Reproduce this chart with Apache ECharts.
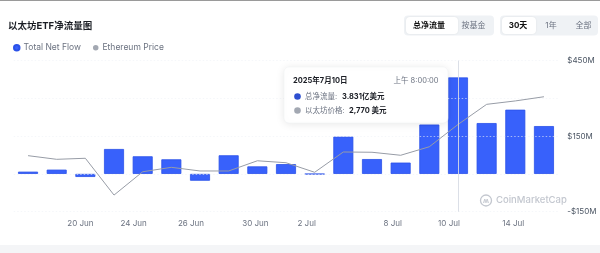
<!DOCTYPE html>
<html>
<head>
<meta charset="utf-8">
<script src="https://cdn.jsdelivr.net/npm/echarts@6/dist/echarts.min.js"></script>
<style>
html,body{margin:0;padding:0;background:#fff;}
#c{width:600px;height:253px;}
</style>
</head>
<body>
<div id="c"></div>
<script>
// ---- data ----
const dates = ['2025-06-17','2025-06-18','2025-06-20','2025-06-23','2025-06-24','2025-06-25','2025-06-26','2025-06-27','2025-06-30','2025-07-01','2025-07-02','2025-07-03','2025-07-07','2025-07-08','2025-07-09','2025-07-10','2025-07-11','2025-07-14','2025-07-15'];
const netFlow = [9, 17, -12, 99, 70, 58, -27, 74, 30, 39, -1, 148, 59, 45, 196, 383.1, 202, 255, 190]; // US$ millions
const ethPrice = [2532, 2504, 2512, 2231, 2409, 2443, 2415, 2415, 2493, 2478, 2405, 2560, 2558, 2535, 2600, 2770, 2924, 2950, 2982];
const labelDates = ['2025-06-20','2025-06-24','2025-06-26','2025-06-30','2025-07-02','2025-07-08','2025-07-10','2025-07-14'];
const yTickLabels = [-150, 150, 450];
const focusDate = '2025-07-10';
const seriesNames = ['Total Net Flow', 'Ethereum Price'];
const title = '以太坊ETF净流量图';
const buttons1 = ['总净流量', '按基金'];
const buttons2 = ['30天', '1年', '全部'];

// ---- styling (label nudges seen in the reference) ----
const labelNudge = {'2025-06-20': 5, '2025-06-24': 9, '2025-06-26': 9, '2025-06-30': 2, '2025-07-02': 8, '2025-07-08': 8, '2025-07-10': 9, '2025-07-14': 2};

const months = ['Jan','Feb','Mar','Apr','May','Jun','Jul','Aug','Sep','Oct','Nov','Dec'];
function shortDate(d){ const p=d.split('-'); return (+p[2])+' '+months[+p[1]-1]; }
function cnDate(d){ const p=d.split('-'); return p[0]+'年'+(+p[1])+'月'+(+p[2])+'日'; }

const FONT = 'Inter, "Noto Sans CJK SC", sans-serif';
const BLUE = '#3861fb';
const GREY = '#a3a8b2';
const fi = dates.indexOf(focusDate);
const flowText = (netFlow[fi]/100).toFixed(3) + '亿美元';
const priceText = ethPrice[fi].toLocaleString('en-US') + ' 美元';

const rich = {};
Object.keys(labelNudge).forEach((d, k) => {
  rich['n' + k] = {fontSize: 8, color: '#6b7280', fontFamily: FONT, padding: [0, labelNudge[d] * 2, 0, 0]};
});
const nudgeKeys = Object.keys(labelNudge);

const chart = echarts.init(document.getElementById('c'), null, {renderer:'canvas'});
chart.setOption({
  animation: false,
  textStyle: {fontFamily: FONT},
  title: {text: title, left: 8, top: 21, padding: 0, textStyle: {fontSize: 9.5, fontWeight: 'bold', color: '#1a1d24', fontFamily: FONT}},
  legend: {
    data: seriesNames, icon: 'circle',
    left: 13, top: 43.5, padding: 0, itemWidth: 5.5, itemHeight: 5.5, itemGap: 12,
    textStyle: {fontSize: 8.5, color: '#6b7280', fontFamily: FONT, padding: [0, 0, 0, -1]}
  },
  grid: {left: 13.7, right: 41.7, top: 60.6, bottom: 41.3, containLabel: false},
  xAxis: {
    type: 'category', data: dates,
    axisLine: {show: false}, axisTick: {show: false},
    axisLabel: {
      interval: (i, v) => labelDates.indexOf(v) >= 0,
      formatter: v => { const k = nudgeKeys.indexOf(v); return k >= 0 ? '{n' + k + '|' + shortDate(v) + '}' : shortDate(v); },
      rich: rich,
      fontSize: 8, color: '#6b7280', margin: 8, fontFamily: FONT
    }
  },
  yAxis: [{
    type: 'value', position: 'right', min: -150, max: 450, interval: 150, z: 3,
    axisLabel: {
      formatter: v => yTickLabels.indexOf(v) >= 0 ? (v < 0 ? '-$' + Math.abs(v) + 'M' : '$' + v + 'M') : '',
      fontSize: 8, color: '#4b5563', margin: 9, fontFamily: FONT
    },
    splitLine: {show: true, lineStyle: {color: 'rgba(238,241,246,0.6)', type: [1.5, 2], width: 1}}
  }, {
    type: 'value', min: 2104, max: 3258, show: false, splitLine: {show: false}
  }],
  series: [{
    name: seriesNames[0], type: 'bar', data: netFlow, barWidth: 20,
    itemStyle: {color: BLUE, borderColor: '#2b52e8', borderWidth: 0.8},
    markLine: {
      silent: true, symbol: 'none', label: {show: false},
      lineStyle: {color: 'rgba(215,220,228,0.9)', type: 'solid', width: 1},
      data: [{xAxis: focusDate}]
    }
  }, {
    name: seriesNames[1], type: 'line', yAxisIndex: 1, data: ethPrice,
    showSymbol: false, symbol: 'none', lineStyle: {color: '#979ca6', width: 1}, itemStyle: {color: GREY}, z: 4
  }],
  graphic: [
    {type: 'rect', shape: {x: 0, y: 0, width: 600, height: 1}, style: {fill: '#9a9a9a'}, silent: true},
    {type: 'rect', shape: {x: 0, y: 245, width: 600, height: 8}, style: {fill: '#f4f5f7'}, silent: true},
    // button group 1
    {type: 'rect', shape: {x: 404, y: 15.5, width: 90, height: 20, r: 4}, style: {fill: '#eff2f5'}, silent: true},
    {type: 'rect', shape: {x: 406, y: 17, width: 52, height: 17, r: 4}, style: {fill: '#fff', shadowBlur: 2, shadowColor: 'rgba(0,0,0,0.08)'}, silent: true},
    {type: 'text', x: 429, y: 25.5, style: {text: buttons1[0], font: 'bold 8px ' + FONT, fill: '#111', align: 'center', verticalAlign: 'middle'}},
    {type: 'text', x: 473.5, y: 25.5, style: {text: buttons1[1], font: '8px ' + FONT, fill: '#6b7280', align: 'center', verticalAlign: 'middle'}},
    // button group 2
    {type: 'rect', shape: {x: 500, y: 15.5, width: 98, height: 20, r: 4}, style: {fill: '#eff2f5'}, silent: true},
    {type: 'rect', shape: {x: 502, y: 17, width: 34, height: 17, r: 4}, style: {fill: '#fff', shadowBlur: 2, shadowColor: 'rgba(0,0,0,0.08)'}, silent: true},
    {type: 'text', x: 518, y: 25.5, style: {text: buttons2[0], font: 'bold 8px ' + FONT, fill: '#111', align: 'center', verticalAlign: 'middle'}},
    {type: 'text', x: 551, y: 25.5, style: {text: buttons2[1], font: '8px ' + FONT, fill: '#6b7280', align: 'center', verticalAlign: 'middle'}},
    {type: 'text', x: 583.5, y: 25.5, style: {text: buttons2[2], font: '8px ' + FONT, fill: '#6b7280', align: 'center', verticalAlign: 'middle'}},
    // watermark
    {type: 'circle', shape: {cx: 486, cy: 200.5, r: 5.5}, style: {fill: 'none', stroke: '#c3c7cf', lineWidth: 1.3}, silent: true},
    {type: 'text', x: 483, y: 201, style: {text: 'ʍ', font: 'bold 7px ' + FONT, fill: '#c3c7cf', align: 'left', verticalAlign: 'middle'}},
    {type: 'text', x: 496, y: 200.5, style: {text: 'CoinMarketCap', font: '500 9.5px ' + FONT, fill: '#c3c7cf', align: 'left', verticalAlign: 'middle'}},
    // static tooltip
    {type: 'rect', z: 100, shape: {x: 284, y: 67, width: 164, height: 56, r: 5}, style: {fill: '#fff', stroke: '#eef0f3', lineWidth: 0.5, shadowBlur: 8, shadowColor: 'rgba(0,0,0,0.10)', shadowOffsetY: 1}},
    {type: 'text', z: 101, x: 293, y: 81, style: {text: cnDate(focusDate), font: 'bold 7.5px ' + FONT, fill: '#1a1d24', verticalAlign: 'middle'}},
    {type: 'text', z: 101, x: 438.5, y: 81, style: {text: '上午 8:00:00', font: '7.5px ' + FONT, fill: '#6b7280', align: 'right', verticalAlign: 'middle'}},
    {type: 'circle', z: 101, shape: {cx: 297.5, cy: 96.5, r: 3.3}, style: {fill: '#2d4fd0'}},
    {type: 'text', z: 101, x: 305, y: 96.5, style: {text: '总净流量:', font: '7.5px ' + FONT, fill: '#6b7280', verticalAlign: 'middle'}},
    {type: 'text', z: 101, x: 342, y: 96.5, style: {text: flowText, font: 'bold 7.5px ' + FONT, fill: '#1a1d24', verticalAlign: 'middle'}},
    {type: 'circle', z: 101, shape: {cx: 297.5, cy: 110.5, r: 3.3}, style: {fill: GREY}},
    {type: 'text', z: 101, x: 305, y: 110.5, style: {text: '以太坊价格:', font: '7.5px ' + FONT, fill: '#6b7280', verticalAlign: 'middle'}},
    {type: 'text', z: 101, x: 349, y: 110.5, style: {text: priceText, font: 'bold 7.5px ' + FONT, fill: '#1a1d24', verticalAlign: 'middle'}}
  ]
});
</script>
</body>
</html>
